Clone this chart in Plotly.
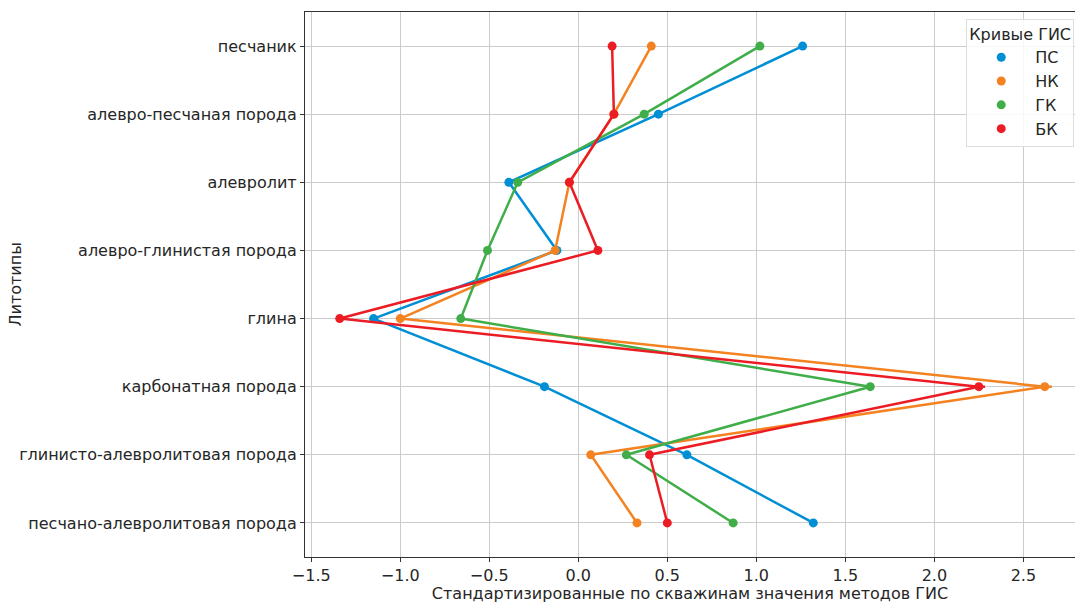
import plotly.graph_objects as go

categories = ["песчаник", "алевро-песчаная порода", "алевролит", "алевро-глинистая порода",
              "глина", "карбонатная порода", "глинисто-алевролитовая порода",
              "песчано-алевролитовая порода"]
series_names = ["ПС", "НК", "ГК", "БК"]
ps = [1.26, 0.45, -0.39, -0.12, -1.15, -0.19, 0.61, 1.32]
nk = [0.41, 0.20, -0.05, -0.13, -1.00, 2.62, 0.07, 0.33]
gk = [1.02, 0.37, -0.34, -0.51, -0.66, 1.64, 0.27, 0.87]
bk = [0.19, 0.20, -0.05, 0.11, -1.34, 2.25, 0.40, 0.50]
ps_err = [0.01, 0.01, 0.015, 0.015, 0.01, 0.01, 0.01, 0.01]
nk_err = [0.01, 0.01, 0.01, 0.01, 0.01, 0.04, 0.01, 0.01]
gk_err = [0.01, 0.01, 0.01, 0.01, 0.01, 0.01, 0.01, 0.01]
bk_err = [0.01, 0.01, 0.01, 0.01, 0.01, 0.035, 0.01, 0.01]
colors = ["#008fd5", "#f58220", "#3fae49", "#ec1c24"]

fig = go.Figure()
for name, vals, errs, col in zip(series_names, [ps, nk, gk, bk],
                                 [ps_err, nk_err, gk_err, bk_err], colors):
    fig.add_trace(go.Scatter(
        x=vals, y=categories, name=name, mode="lines+markers",
        line=dict(color=col, width=2.5),
        marker=dict(color=col, size=9),
        error_x=dict(type="data", array=errs, color=col, thickness=2.5, width=0),
        showlegend=False,
    ))
# legend entries: markers only
for name, col in zip(series_names, colors):
    fig.add_trace(go.Scatter(
        x=[None], y=[None], name=name, mode="markers",
        marker=dict(color=col, size=9), showlegend=True,
    ))

font = "DejaVu Sans, sans-serif"
fig.update_layout(
    width=1075, height=603,
    margin=dict(l=305, r=0, t=12, b=46),
    paper_bgcolor="white", plot_bgcolor="white",
    font=dict(family=font, size=16, color="#262626"),
    legend=dict(
        title=dict(text="Кривые ГИС", font=dict(size=16)),
        x=0.999, y=0.988, xanchor="right", yanchor="top",
        bgcolor="rgba(255,255,255,0.85)", bordercolor="#dddddd", borderwidth=1,
        font=dict(size=16), itemwidth=58, tracegroupgap=0,
    ),
    xaxis=dict(
        range=[-1.535, 2.79], dtick=0.5, tickformat=".1f",
        showgrid=True, gridcolor="#cccccc", gridwidth=1,
        zeroline=False, showline=True, linecolor="#333333", linewidth=1.2,
        mirror=True, ticks="outside", ticklen=4, tickcolor="#333333",
        tickfont=dict(size=16),
        title=dict(text="Стандартизированные по скважинам значения методов ГИС",
                   font=dict(size=16), standoff=9),
        automargin=False,
    ),
    yaxis=dict(
        range=[7.5, -0.5], categoryorder="array", categoryarray=categories,
        showgrid=True, gridcolor="#cccccc", gridwidth=1,
        zeroline=False, showline=True, linecolor="#333333", linewidth=1.2,
        mirror=True, ticks="outside", ticklen=4, tickcolor="#333333",
        tickfont=dict(size=16),
        automargin=False,
    ),
    annotations=[dict(
        text="Литотипы", textangle=-90, showarrow=False,
        xref="paper", yref="paper", x=(15 - 305) / 770, y=0.5,
        xanchor="center", yanchor="middle", font=dict(size=16),
    )],
)

fig.write_html("out.html", config={"displayModeBar": False},
               post_script="document.body.style.margin='0';")
